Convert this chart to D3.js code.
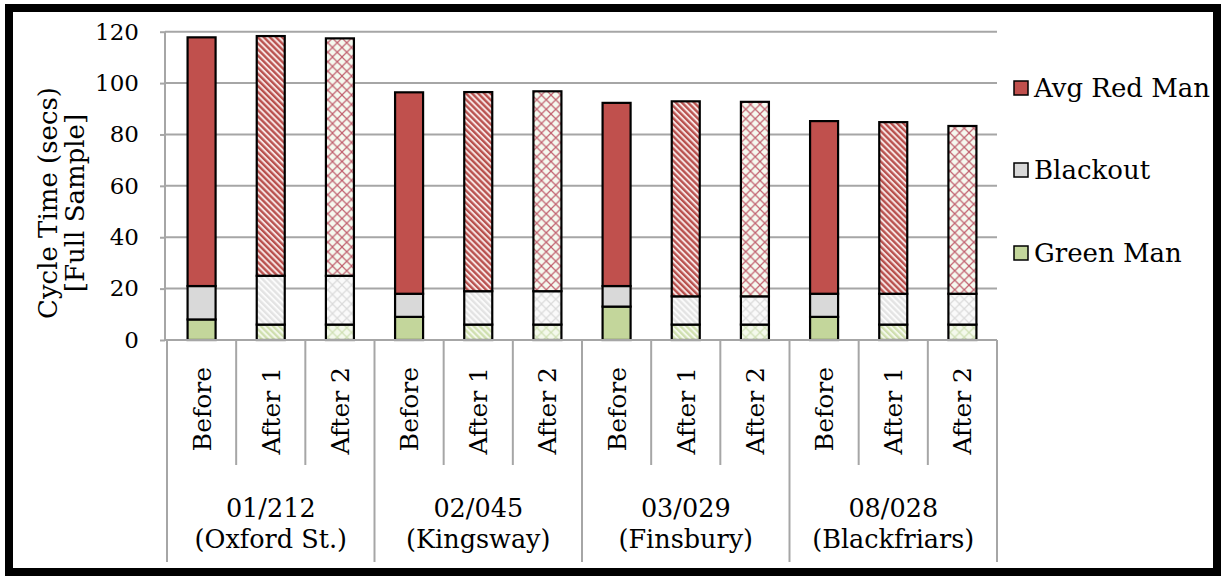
<!DOCTYPE html>
<html>
<head>
<meta charset="utf-8">
<script src="https://cdn.jsdelivr.net/npm/d3@7"></script>
<style>
  html, body { margin: 0; padding: 0; background: #fff; }
  svg { display: block; font-family: "DejaVu Serif", "Liberation Serif", serif; }
</style>
</head>
<body>
<svg id="chart" width="1221" height="576"></svg>
<script>
// Sites and the three survey phases at each site
const siteCodes = ["01/212", "02/045", "03/029", "08/028"];
const siteNames = ["(Oxford St.)", "(Kingsway)", "(Finsbury)", "(Blackfriars)"];
const phases = ["Before", "After 1", "After 2"];

// Average cycle components per bar, in seconds (site-major order)
const greenMan  = [8, 6, 6, 9, 6, 6, 13, 6, 6, 9, 6, 6];
const blackout  = [13, 19, 19, 9, 13, 13, 8, 11, 11, 9, 12, 12];
const avgRedMan = [96.8, 93.3, 92.4, 78.4, 77.5, 77.8, 71.3, 75.9, 75.7, 67.2, 66.8, 65.3];

const seriesNames = ["Green Man", "Blackout", "Avg Red Man"];
const yTicks = [0, 20, 40, 60, 80, 100, 120];

const svg = d3.select("#chart");
const plotLeft = 167, plotRight = 997, plotTop = 31.7, plotBottom = 340;

// Base colours per series
const baseColour = { "Green Man": "#C3D69B", "Blackout": "#D9D9D9", "Avg Red Man": "#C0504D" };

// Fill patterns: stripes for "After 1", diagonal cross-hatch for "After 2"
const defs = svg.append("defs");
const stripeSpec = {
  "Avg Red Man": { bg: "#F6E3E2", fg: "#B8504D" },
  "Blackout":    { bg: "#FBFBFB", fg: "#E3E3E3" },
  "Green Man":   { bg: "#F4F8EC", fg: "#CFDFAE" }
};
const hatchSpec = {
  "Avg Red Man": { bg: "#F5F9EF", fg: "#C0606E" },
  "Blackout":    { bg: "#FAFAFA", fg: "#DADADA" },
  "Green Man":   { bg: "#F4F9EC", fg: "#CFE0B4" }
};
const pid = s => s.replace(/\s+/g, "");
seriesNames.forEach(s => {
  const st = stripeSpec[s];
  const p1 = defs.append("pattern")
    .attr("id", "stripe-" + pid(s))
    .attr("patternUnits", "userSpaceOnUse")
    .attr("width", 4.3).attr("height", 4.3)
    .attr("patternTransform", "rotate(-45)");
  p1.append("rect").attr("width", 4.3).attr("height", 4.3).attr("fill", st.bg);
  p1.append("rect").attr("width", 2.3).attr("height", 4.3).attr("fill", st.fg);

  const hs = hatchSpec[s];
  const w = 9.5;
  const p2 = defs.append("pattern")
    .attr("id", "hatch-" + pid(s))
    .attr("patternUnits", "userSpaceOnUse")
    .attr("width", w).attr("height", w);
  p2.append("rect").attr("width", w).attr("height", w).attr("fill", hs.bg);
  p2.append("path")
    .attr("d", `M0,0L${w},${w}M${w},0L0,${w}`)
    .attr("stroke", hs.fg).attr("stroke-width", 1.2).attr("fill", "none");
});

function fillFor(series, phaseIdx) {
  if (phaseIdx === 0) return baseColour[series];
  if (phaseIdx === 1) return `url(#stripe-${pid(series)})`;
  return `url(#hatch-${pid(series)})`;
}

// Build rows for stacking
const rows = greenMan.map((g, i) => ({
  idx: i,
  site: Math.floor(i / phases.length),
  phase: i % phases.length,
  "Green Man": g,
  "Blackout": blackout[i],
  "Avg Red Man": avgRedMan[i]
}));
const stacked = d3.stack().keys(seriesNames)(rows);

// Scales
const x = d3.scaleBand()
  .domain(rows.map(r => r.idx))
  .range([plotLeft, plotRight])
  .paddingInner(0.595)
  .paddingOuter(0.2975);
const step = x.step();
const y = d3.scaleLinear().domain([0, 120]).range([plotBottom, plotTop]);

// Outer frame
svg.append("rect")
  .attr("x", 9).attr("y", 8).attr("width", 1208).attr("height", 564)
  .attr("fill", "none").attr("stroke", "#000").attr("stroke-width", 8);

// Horizontal gridlines
svg.append("g")
  .selectAll("line")
  .data(yTicks.filter(t => t > 0))
  .join("line")
  .attr("x1", 165).attr("x2", plotRight)
  .attr("y1", d => y(d)).attr("y2", d => y(d))
  .attr("stroke", "#A6A6A6").attr("stroke-width", 2);

// Y axis
const yAxis = svg.append("g")
  .attr("transform", "translate(165,0)")
  .call(d3.axisLeft(y).tickValues(yTicks).tickSize(5).tickPadding(21));
yAxis.selectAll("path, line").attr("stroke", "#A6A6A6").attr("stroke-width", 2);
yAxis.select(".domain").attr("d", `M0,${y(120)}V${y(0)}`);
yAxis.selectAll("text")
  .attr("font-family", "DejaVu Serif").attr("font-size", 23).attr("fill", "#000");

// Y axis title (two lines)
[["Cycle Time (secs)", 57], ["[Full Sample]", 84]].forEach(([t, bx]) => {
  svg.append("text")
    .attr("transform", `translate(${bx},203) rotate(-90)`)
    .attr("text-anchor", "middle")
    .attr("font-size", 26)
    .text(t);
});

// Stacked bars
const barG = svg.append("g");
stacked.forEach(layer => {
  barG.append("g")
    .selectAll("rect")
    .data(layer)
    .join("rect")
    .attr("x", d => x(d.data.idx))
    .attr("width", x.bandwidth())
    .attr("y", d => y(d[1]))
    .attr("height", d => y(d[0]) - y(d[1]))
    .attr("fill", d => fillFor(layer.key, d.data.phase))
    .attr("stroke", "#000")
    .attr("stroke-width", 2.2);
});

// Category axis: baseline, separators and labels
const axG = svg.append("g");
axG.append("line")
  .attr("x1", 165).attr("x2", plotRight)
  .attr("y1", plotBottom).attr("y2", plotBottom)
  .attr("stroke", "#A6A6A6").attr("stroke-width", 2);

const boundaries = d3.range(rows.length + 1).map(i => plotLeft + i * step);
axG.selectAll("line.sep")
  .data(boundaries)
  .join("line")
  .attr("class", "sep")
  .attr("x1", d => d).attr("x2", d => d)
  .attr("y1", plotBottom)
  .attr("y2", (d, i) => (i % phases.length === 0) ? 562 : 465)
  .attr("stroke", "#A6A6A6").attr("stroke-width", 2);

axG.selectAll("text.phase")
  .data(rows)
  .join("text")
  .attr("class", "phase")
  .attr("transform", d => `translate(${x(d.idx) + x.bandwidth() / 2 + 9},367) rotate(-90)`)
  .attr("text-anchor", "end")
  .attr("font-size", 25)
  .text(d => phases[d.phase]);

siteCodes.forEach((code, s) => {
  const cx = plotLeft + (s * phases.length + phases.length / 2) * step;
  axG.append("text")
    .attr("x", cx).attr("y", 517)
    .attr("text-anchor", "middle").attr("font-size", 25.5)
    .text(code);
  axG.append("text")
    .attr("x", cx).attr("y", 548)
    .attr("text-anchor", "middle").attr("font-size", 25.5)
    .text(siteNames[s]);
});

// Legend (top to bottom: Avg Red Man, Blackout, Green Man)
const legendItems = seriesNames.slice().reverse();
const legendY = [88, 170, 253];
const lg = svg.append("g");
legendItems.forEach((s, i) => {
  lg.append("rect")
    .attr("x", 1014).attr("y", legendY[i] - 7)
    .attr("width", 14).attr("height", 14)
    .attr("fill", baseColour[s]).attr("stroke", "#000").attr("stroke-width", 1.5);
  lg.append("text")
    .attr("x", 1034).attr("y", legendY[i] + 9)
    .attr("font-size", 26)
    .text(s);
});
</script>
</body>
</html>
